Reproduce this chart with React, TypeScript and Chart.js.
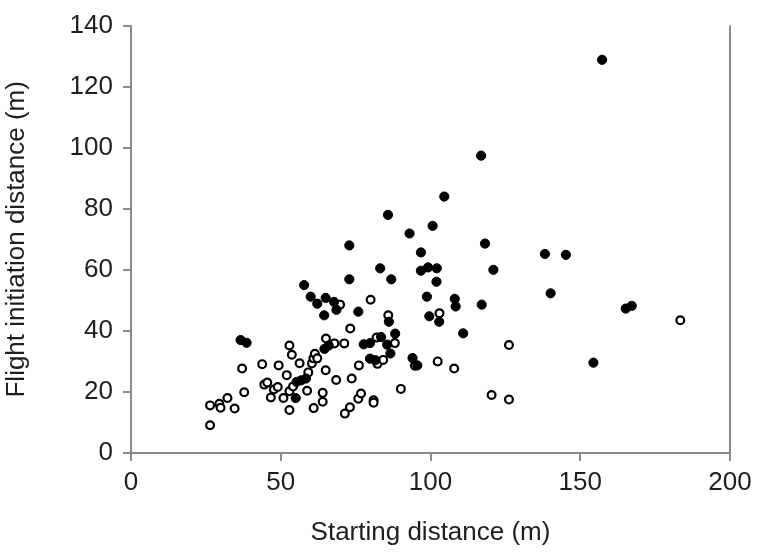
import React, { useEffect, useRef } from "react";
import { Chart, registerables } from "chart.js";

Chart.register(...registerables);

// Filled circles
const filledX = [36.6, 38.6, 55.0, 55.3, 56.8, 58.4, 57.8, 60.0, 62.2, 65.0, 64.5, 64.6, 66.0, 67.8, 68.6, 72.9, 72.9, 75.9, 77.7, 79.8, 79.8, 81.6, 83.5, 83.2, 85.5, 86.6, 85.8, 86.9, 86.1, 88.2, 93.0, 94.0, 95.6, 96.8, 96.8, 99.2, 102.1, 98.8, 99.6, 100.7, 102.0, 102.9, 104.6, 108.1, 108.4, 110.9, 116.9, 117.1, 118.2, 121.0, 138.2, 140.1, 145.2, 154.4, 157.3, 165.2, 167.2];
const filledY = [37.0, 36.1, 18.0, 23.3, 23.8, 24.4, 55.0, 51.2, 48.9, 50.8, 45.1, 34.1, 35.2, 49.5, 46.9, 68.0, 56.9, 46.3, 35.6, 36.0, 30.9, 30.4, 38.0, 60.5, 35.5, 32.6, 78.0, 56.9, 43.0, 39.1, 71.9, 31.1, 28.7, 65.7, 59.7, 60.8, 60.5, 51.2, 44.8, 74.4, 56.1, 43.0, 84.0, 50.5, 48.0, 39.2, 97.4, 48.6, 68.6, 60.0, 65.2, 52.3, 64.9, 29.6, 128.8, 47.3, 48.2];

// Open circles
const openX = [26.4, 26.4, 29.5, 29.9, 32.2, 34.6, 37.1, 37.8, 43.8, 44.5, 45.5, 47.7, 49.0, 46.7, 49.3, 50.9, 52.0, 52.9, 53.7, 52.9, 54.1, 52.9, 56.3, 58.8, 59.2, 60.4, 60.9, 61.4, 62.2, 61.0, 64.0, 64.0, 65.0, 65.1, 67.9, 68.5, 69.8, 71.2, 71.4, 73.2, 73.1, 73.7, 75.9, 76.8, 76.1, 80.0, 81.0, 81.0, 82.0, 82.3, 84.2, 85.9, 88.1, 90.1, 94.8, 102.4, 103.0, 107.9, 120.4, 126.2, 126.2, 183.4];
const openY = [15.6, 9.1, 16.1, 14.8, 18.0, 14.6, 27.7, 19.9, 29.1, 22.4, 23.1, 20.8, 21.6, 18.2, 28.7, 18.0, 25.5, 35.2, 32.2, 20.2, 21.8, 14.1, 29.4, 20.4, 26.4, 29.3, 31.0, 32.5, 31.0, 14.7, 19.7, 16.8, 27.1, 37.5, 35.9, 23.9, 48.6, 35.9, 12.9, 40.8, 15.0, 24.4, 17.8, 19.5, 28.7, 50.2, 17.3, 16.5, 37.8, 29.2, 30.5, 45.1, 36.0, 21.0, 28.6, 30.0, 45.8, 27.7, 19.0, 17.5, 35.4, 43.5];

const xTicks = [0, 50, 100, 150, 200];
const yTicks = [0, 20, 40, 60, 80, 100, 120, 140];

const AXIS = "#8a8a8a";
const TEXT = "#1e1e1e";
const FONT = "'Liberation Sans', Arial, sans-serif";

const toPoints = (xs: number[], ys: number[]) => xs.map((x, i) => ({ x, y: ys[i] }));

const rightBorder = {
  id: "rightBorder",
  afterDraw(chart: any) {
    const { ctx, chartArea } = chart;
    ctx.save();
    ctx.strokeStyle = AXIS;
    ctx.lineWidth = 2;
    ctx.beginPath();
    ctx.moveTo(chartArea.right, chartArea.top);
    ctx.lineTo(chartArea.right, chartArea.bottom);
    ctx.stroke();
    ctx.restore();
  },
};

export default function App() {
  const ref = useRef<HTMLCanvasElement>(null);

  useEffect(() => {
    if (!ref.current) return;
    const chart = new Chart(ref.current, {
      type: "scatter",
      data: {
        datasets: [
          {
            label: "filled",
            data: toPoints(filledX, filledY),
            pointRadius: 4.6,
            pointBorderWidth: 1,
            pointBackgroundColor: "#000000",
            pointBorderColor: "#000000",
          },
          {
            label: "open",
            data: toPoints(openX, openY),
            pointRadius: 3.9,
            pointBorderWidth: 2.2,
            pointBackgroundColor: "#ffffff",
            pointBorderColor: "#000000",
          },
        ],
      },
      options: {
        responsive: false,
        animation: false,
        layout: { padding: { top: 17, right: 30, bottom: 0, left: 0 } },
        plugins: {
          legend: { display: false },
          tooltip: { enabled: false },
        },
        scales: {
          x: {
            type: "linear",
            min: 0,
            max: 200,
            afterBuildTicks: (s: any) => {
              s.ticks = xTicks.map((v) => ({ value: v }));
            },
            afterFit: (s: any) => {
              s.height = 102;
            },
            ticks: {
              color: TEXT,
              font: { family: FONT, size: 26 },
              padding: 6,
              maxRotation: 0,
            },
            grid: {
              drawOnChartArea: false,
              drawTicks: true,
              tickLength: 8,
              color: AXIS,
              lineWidth: 2,
            },
            border: { color: AXIS, width: 2 },
            title: {
              display: true,
              text: "Starting distance (m)",
              color: TEXT,
              font: { family: FONT, size: 26 },
              padding: { top: 0, bottom: 7 },
            },
          },
          y: {
            type: "linear",
            min: 0,
            max: 140,
            afterBuildTicks: (s: any) => {
              s.ticks = yTicks.map((v) => ({ value: v }));
            },
            afterFit: (s: any) => {
              s.width = 131;
            },
            ticks: {
              color: TEXT,
              font: { family: FONT, size: 26 },
              padding: 10,
            },
            grid: {
              drawOnChartArea: false,
              drawTicks: true,
              tickLength: 8,
              color: AXIS,
              lineWidth: 2,
            },
            border: { color: AXIS, width: 2 },
            title: {
              display: true,
              text: "Flight initiation distance (m)",
              color: TEXT,
              font: { family: FONT, size: 26 },
              padding: { top: 1, bottom: 0 },
            },
          },
        },
      },
      plugins: [rightBorder],
    });
    return () => chart.destroy();
  }, []);

  return (
    <div style={{ position: "absolute", left: 0, top: 0, width: 760, height: 555, background: "#ffffff" }}>
      <canvas ref={ref} width={760} height={555} style={{ display: "block" }} />
    </div>
  );
}
